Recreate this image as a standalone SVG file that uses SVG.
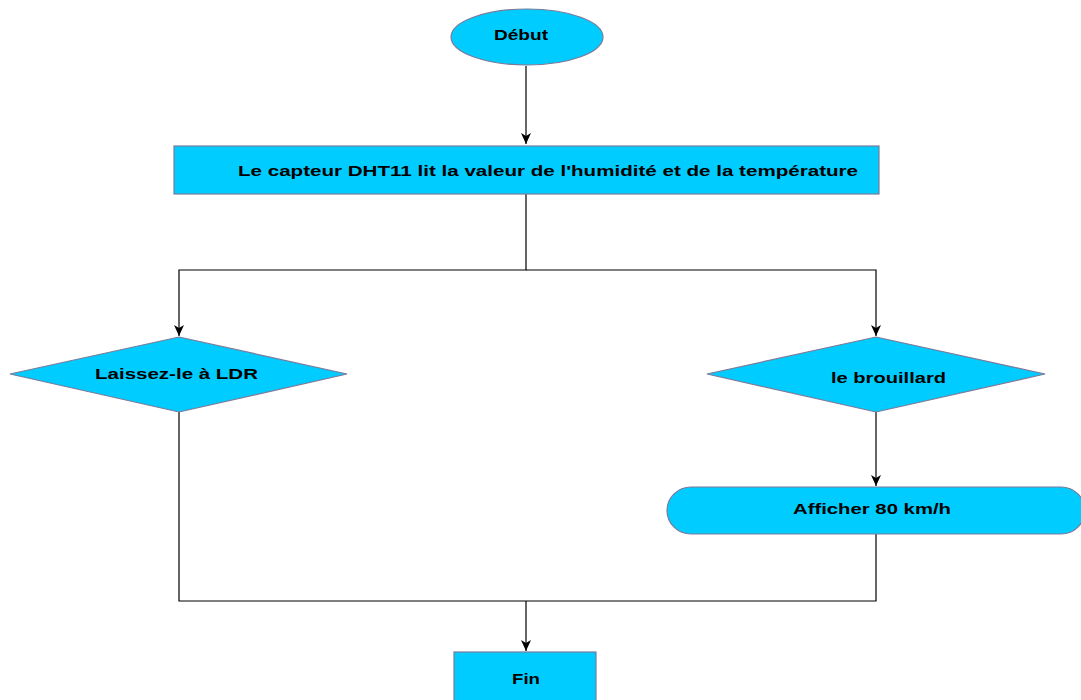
<svg xmlns="http://www.w3.org/2000/svg" width="1081" height="700" viewBox="0 0 1081 700">
<defs>
<marker id="arr" markerWidth="12" markerHeight="12" viewBox="0 0 12 12" refX="11" refY="6" orient="auto" markerUnits="userSpaceOnUse">
<path d="M0,1 L11,6 L0,11 L3,6 Z" fill="#000"/>
</marker>
</defs>
<style>
.shape{fill:#00CCFF;stroke:#7a7a9a;stroke-width:1.2}
.lbl{font-family:"Liberation Sans",Arial,sans-serif;font-weight:bold;font-size:15.5px;fill:#000}
.conn{fill:none;stroke:#000;stroke-width:1.2}
</style>
<rect width="1081" height="700" fill="#fff"/>
<g id="connectors">
<path class="conn" d="M526,66 V144" marker-end="url(#arr)"/>
<path class="conn" d="M526,194 V270 H179 V336" marker-end="url(#arr)"/>
<path class="conn" d="M526,270 H876 V336" marker-end="url(#arr)"/>
<path class="conn" d="M876,412 V486" marker-end="url(#arr)"/>
<path class="conn" d="M179,412 V601 H876 V534"/>
<path class="conn" d="M526,601 V651" marker-end="url(#arr)"/>
</g>
<g id="debut">
<ellipse class="shape" cx="527" cy="37" rx="76" ry="28"/>
<text class="lbl" x="494" y="40" textLength="54" lengthAdjust="spacingAndGlyphs">Début</text>
</g>
<g id="capteur">
<rect class="shape" x="174" y="146" width="705" height="48"/>
<text class="lbl" x="238" y="175.5" textLength="620" lengthAdjust="spacingAndGlyphs">Le capteur DHT11 lit la valeur de l'humidité et de la température</text>
</g>
<g id="ldr">
<polygon class="shape" points="179,337 347,374 179,412 10,374"/>
<text class="lbl" x="95" y="379" textLength="163" lengthAdjust="spacingAndGlyphs">Laissez-le à LDR</text>
</g>
<g id="brouillard">
<polygon class="shape" points="876,337 1045,374 876,412 707,374"/>
<text class="lbl" x="831" y="383" textLength="115" lengthAdjust="spacingAndGlyphs">le brouillard</text>
</g>
<g id="afficher">
<rect class="shape" x="667" y="487" width="418" height="47" rx="24" ry="24"/>
<text class="lbl" x="793" y="514" textLength="158" lengthAdjust="spacingAndGlyphs">Afficher 80 km/h</text>
</g>
<g id="fin">
<rect class="shape" x="454" y="652" width="142" height="60"/>
<text class="lbl" x="512" y="684" textLength="28" lengthAdjust="spacingAndGlyphs">Fin</text>
</g>
</svg>
